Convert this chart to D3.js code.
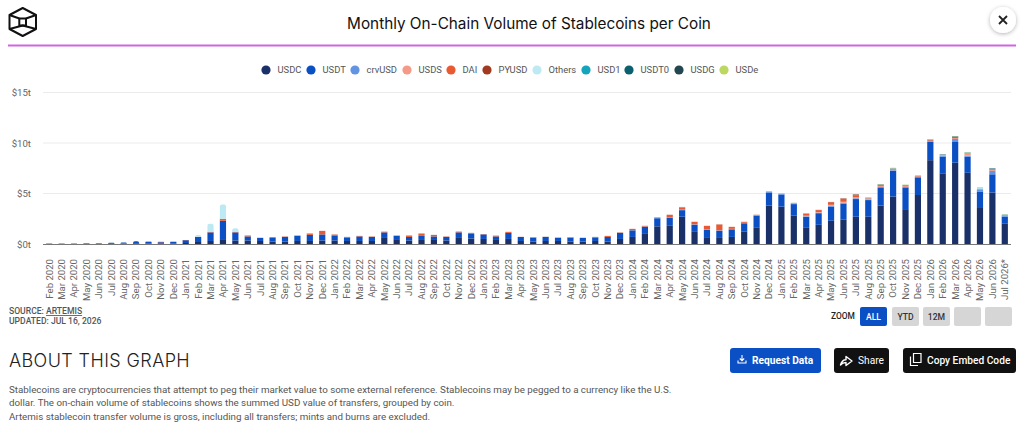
<!DOCTYPE html>
<html lang="en">
<head>
<meta charset="utf-8">
<title>Monthly On-Chain Volume of Stablecoins per Coin</title>
<script src="https://cdn.jsdelivr.net/npm/d3@7"></script>
<style>
html, body { margin: 0; padding: 0; background: #fff; overflow: hidden; }
text { font-family: Roboto, sans-serif; }
.axis text { fill: #666; font-size: 9.6px; }
.axis path, .axis line { display: none; }
</style>
</head>
<body>
<div id="chart"></div>
<script>
// values in trillions of USD
var months = ["Feb 2020","Mar 2020","Apr 2020","May 2020","Jun 2020","Jul 2020","Aug 2020","Sep 2020","Oct 2020","Nov 2020","Dec 2020",
	"Jan 2021","Feb 2021","Mar 2021","Apr 2021","May 2021","Jun 2021","Jul 2021","Aug 2021","Sep 2021","Oct 2021","Nov 2021","Dec 2021",
	"Jan 2022","Feb 2022","Mar 2022","Apr 2022","May 2022","Jun 2022","Jul 2022","Aug 2022","Sep 2022","Oct 2022","Nov 2022","Dec 2022",
	"Jan 2023","Feb 2023","Mar 2023","Apr 2023","May 2023","Jun 2023","Jul 2023","Aug 2023","Sep 2023","Oct 2023","Nov 2023","Dec 2023",
	"Jan 2024","Feb 2024","Mar 2024","Apr 2024","May 2024","Jun 2024","Jul 2024","Aug 2024","Sep 2024","Oct 2024","Nov 2024","Dec 2024",
	"Jan 2025","Feb 2025","Mar 2025","Apr 2025","May 2025","Jun 2025","Jul 2025","Aug 2025","Sep 2025","Oct 2025","Nov 2025","Dec 2025",
	"Jan 2026","Feb 2026","Mar 2026","Apr 2026","May 2026","Jun 2026","Jul 2026*"]

var usdc = [.02,.02,.02,.02,.02,.03,.04,.07,.06,.06,.06,
	.1,.2,.3,.4,.35,.35,.3,.25,.25,.3,.3,.35,
	.35,.3,.3,.3,.6,.4,.35,.4,.4,.35,.6,.55,
	.5,.4,.5,.3,.25,.3,.3,.25,.25,.3,.25,.5,
	.7,1.0,1.75,1.8,2.7,1.2,.6,.6,.7,1.25,1.6,3.8,
	3.7,2.8,1.6,1.9,2.3,2.4,2.7,2.7,3.8,4.7,3.45,4.85,
	8.3,7.0,8.05,7.05,3.65,5.1,2.0]
var usdt = [.03,.04,.04,.05,.05,.1,.12,.2,.14,.12,.15,
	.28,.5,.85,1.9,.8,.4,.3,.4,.45,.5,.6,.6,
	.45,.35,.45,.4,.55,.4,.35,.4,.35,.35,.55,.45,
	.45,.35,.6,.4,.4,.4,.3,.4,.35,.35,.45,.6,
	.65,.7,.8,.8,.65,.7,.8,.7,.75,.8,1.2,1.3,
	1.2,1.15,1.1,1.15,1.4,1.6,1.75,1.65,1.8,2.55,2.15,1.75,
	1.8,1.65,2.05,1.6,1.55,1.8,.7]
var crvusd = [0,0,0,0,0,0,0,0,0,0,0,
	0,0,0,0,0,0,0,0,0,0,0,0,
	0,0,0,0,0,0,0,0,0,0,0,0,
	0,0,0,0,0,0,0,0,0,0,0,.01,
	.02,.03,.04,.05,.05,.05,.05,.05,.05,.05,.05,.05,
	.05,.05,.05,.05,.08,.08,.08,.05,.06,.06,.06,.05,
	.08,.1,.3,.1,.15,.35,.1]
var usds = [0,0,0,0,0,0,0,0,0,0,0,
	0,0,0,0,0,0,0,0,0,0,0,0,
	0,0,0,0,0,0,0,0,0,0,0,0,
	0,0,0,0,0,0,0,0,0,0,0,0,
	0,0,0,0,0,0,0,0,0,0,0,.02,
	.03,.03,.05,.05,.1,.1,.08,.04,.04,.05,.04,.03,
	.05,.04,.05,.2,.06,.05,.03]
var dai = [0,0,0,0,0,0,0,0,.04,.05,.01,
	.01,.02,.05,.2,.05,.1,.02,.01,.05,.05,.15,.35,
	.15,.05,.05,.05,.08,.05,.15,.25,.15,.05,.08,.1,
	.03,.08,.1,.01,.02,.02,.05,.02,.02,.05,.1,.05,
	.13,.07,.06,.25,.25,.25,.35,.6,.2,.1,.05,.05,
	.03,.04,.2,.2,.25,.3,.2,.05,.1,.05,.05,.03,
	.02,.02,.03,.02,.02,.02,.02]
var pyusd = [0,0,0,0,0,0,0,0,0,0,0,
	0,0,0,0,0,0,0,0,0,0,0,0,
	0,0,0,0,0,0,0,0,0,0,0,0,
	0,0,0,0,0,0,0,0,0,0,0,0,
	0,0,0,0,0,0,0,0,0,0,0,0,
	0,0,.03,.03,.03,.05,.1,.04,.06,.04,.05,.02,
	.05,.03,.1,.03,.02,.08,.02]
var others = [0,0,0,0,0,0,0,0,0,0,0,
	0,.18,.8,1.4,.35,.02,.02,.02,.02,.02,.02,.02,
	.02,.02,.02,.02,.05,.02,.02,.02,.02,.02,.02,.02,
	.02,.02,.02,.02,.02,.02,.02,.02,.02,.02,.02,.02,
	.02,.02,.02,.02,.03,.02,.02,.02,.02,.02,.02,.02,
	.02,.02,.02,.02,.02,.02,.02,.03,.02,.03,.02,.02,
	.03,.03,.03,.03,.08,.03,.03]
var usd1 = [0,0,0,0,0,0,0,0,0,0,0,
	0,0,0,0,0,0,0,0,0,0,0,0,
	0,0,0,0,0,0,0,0,0,0,0,0,
	0,0,0,0,0,0,0,0,0,0,0,0,
	0,0,0,0,0,0,0,0,0,0,0,0,
	0,0,0,0,0,0,0,0,.01,.01,.01,.01,
	.02,.02,.02,.02,.02,.02,.01]
var usdt0 = [0,0,0,0,0,0,0,0,0,0,0,
	0,0,0,0,0,0,0,0,0,0,0,0,
	0,0,0,0,0,0,0,0,0,0,0,0,
	0,0,0,0,0,0,0,0,0,0,0,0,
	0,0,0,0,0,0,0,0,0,0,0,0,
	0,0,0,0,0,0,.01,.01,.01,.01,.01,.01,
	.01,.01,.02,.01,.01,.02,.01]
var usdg = [0,0,0,0,0,0,0,0,0,0,0,
	0,0,0,0,0,0,0,0,0,0,0,0,
	0,0,0,0,0,0,0,0,0,0,0,0,
	0,0,0,0,0,0,0,0,0,0,0,0,
	0,0,0,0,0,0,0,0,0,0,0,0,
	0,0,0,0,0,0,0,.01,.02,.01,.01,.01,
	.01,.01,.03,.01,.01,.03,.01]
var usde = [0,0,0,0,0,0,0,0,0,0,0,
	0,0,0,0,0,0,0,0,0,0,0,0,
	0,0,0,0,0,0,0,0,0,0,0,0,
	0,0,0,0,0,0,0,0,0,0,0,0,
	0,0,0,0,0,0,0,0,0,0,0,0,
	0,0,0,0,0,.01,.01,.05,.01,.05,.01,.01,
	.01,.01,.005,.005,.01,.005,.005]

var coins = ["USDC","USDT","crvUSD","USDS","DAI","PYUSD","Others","USD1","USDT0","USDG","USDe"]
var colors = ["#1a3068","#0b4fc4","#6394e4","#f49a86","#ea5a32","#a23a20","#bdeaf2","#12a5bb","#0b5f6e","#234750","#bcd860"]
var legendX = [266,311,355,407,451,487,537,586,629,679,724]
var yTicks = [0,5,10,15]

var table = months.map(function(m,i){
	return {month:m, USDC:usdc[i], USDT:usdt[i], crvUSD:crvusd[i], USDS:usds[i], DAI:dai[i], PYUSD:pyusd[i],
		Others:others[i], USD1:usd1[i], USDT0:usdt0[i], USDG:usdg[i], USDe:usde[i]}
})

var w = 1024
var h = 428
var left = 43
var right = 1011
var y0 = 244
var yTop = 92.5

var svg = d3.select("#chart").append("svg")
	.attr("width",w)
	.attr("height",h)
	.style("display","block")

var xScale = d3.scaleBand()
	.domain(months)
	.range([left,right])
	.paddingInner(0.5)
	.paddingOuter(0.25)

var yScale = d3.scaleLinear()
	.domain([0,15])
	.range([y0,yTop])

// header
svg.append("rect").attr("x",8).attr("y",44.5).attr("width",1008).attr("height",2).attr("fill","#d264e2")
svg.append("text").attr("x",529).attr("y",29).attr("text-anchor","middle")
	.style("font-family","Inter, sans-serif").style("font-size","15.3px").style("fill","#111")
	.text("Monthly On-Chain Volume of Stablecoins per Coin")

var logo = svg.append("g").attr("fill","none").attr("stroke","#111").attr("stroke-width",2).attr("stroke-linejoin","round")
logo.append("path").attr("d","M22.7 8L36 15V29L22.7 36L9.5 29V15Z")
logo.append("path").attr("d","M9.5 15L19.3 18.5M36 15L26 18.5M9.5 29L22.7 25.5L36 29")
logo.append("rect").attr("x",19.3).attr("y",18.5).attr("width",6.7).attr("height",7)

var shadow = svg.append("defs").append("filter").attr("id","sh").attr("x","-50%").attr("y","-50%").attr("width","200%").attr("height","200%")
shadow.append("feDropShadow").attr("dx",0).attr("dy",1).attr("stdDeviation",2).attr("flood-opacity",.3)
svg.append("circle").attr("cx",1003).attr("cy",20).attr("r",13).attr("fill","#fff").attr("filter","url(#sh)")
svg.append("path").attr("d","M999 16L1007 24M1007 16L999 24").attr("stroke","#222").attr("stroke-width",1.8)

// legend
var legend = svg.selectAll(".legend").data(coins).enter().append("g")
	.attr("class","legend")
	.attr("transform",function(d,i){ return "translate(" + legendX[i] + ",70)" })
legend.append("circle").attr("r",4.6).attr("fill",function(d,i){ return colors[i] })
legend.append("text").attr("x",11.5).attr("y",3.4).style("font-size","9.4px").style("fill","#555").text(function(d){ return d })

// y axis and grid
svg.selectAll(".grid").data(yTicks.slice(1)).enter().append("line")
	.attr("class","grid")
	.attr("x1",left).attr("x2",right)
	.attr("y1",function(d){ return yScale(d) }).attr("y2",function(d){ return yScale(d) })
	.attr("stroke","#ebebeb").attr("stroke-width",1)

var yAxis = d3.axisLeft(yScale).tickValues(yTicks).tickSize(0).tickPadding(0)
	.tickFormat(function(d){ return "$" + d + "t" })
svg.append("g").attr("class","axis").attr("transform","translate(31,0)").call(yAxis)

// bars
var stack = d3.stack().keys(coins)(table)
var groups = svg.selectAll(".series").data(stack).enter().append("g")
	.attr("class","series")
	.attr("fill",function(d,i){ return colors[i] })

function topIndex(d){
	var last = 0
	coins.forEach(function(c,i){ if (d[c] > 0) last = i })
	return last
}

groups.each(function(s,si){
	d3.select(this).selectAll("path").data(s).enter().append("path")
		.attr("d",function(d){
			var a = xScale(d.data.month), b = a + xScale.bandwidth()
			var y1 = yScale(d[1]), y2 = yScale(d[0])
			if (topIndex(d.data) != si || y2 - y1 < .01) return "M" + a + " " + y2 + "H" + b + "V" + y1 + "H" + a + "Z"
			var r = Math.min(2, y2 - y1)
			return "M" + a + " " + y2 + "H" + b + "V" + (y1+r) + "Q" + b + " " + y1 + " " + (b-r) + " " + y1 +
				"H" + (a+r) + "Q" + a + " " + y1 + " " + a + " " + (y1+r) + "Z"
		})
})

// x axis
svg.append("line").attr("x1",left).attr("x2",right).attr("y1",y0+.5).attr("y2",y0+.5).attr("stroke","#777").attr("stroke-width",1.2)
var xAxis = d3.axisBottom(xScale).tickSize(0).tickPadding(0)
var gx = svg.append("g").attr("class","axis").attr("transform","translate(0,259)").call(xAxis)
gx.selectAll("text")
	.attr("transform","rotate(-90)")
	.attr("text-anchor","end")
	.attr("x",0).attr("y",0).attr("dy","0.35em")

// source
svg.append("text").attr("x",9).attr("y",314).style("font-size","8.6px").style("font-weight",500).style("fill","#555")
	.html('SOURCE: <tspan text-decoration="underline">ARTEMIS</tspan>')
svg.append("text").attr("x",9).attr("y",324).style("font-size","8.6px").style("font-weight",500).style("fill","#555")
	.text("UPDATED: JUL 16, 2026")

// zoom buttons
svg.append("text").attr("x",831).attr("y",319).style("font-size","8.4px").style("font-weight",500).style("fill","#222").text("ZOOM")
var zoomLabels = ["ALL","YTD","12M","",""]
var zoomX = [860,892,923,954,985]
zoomLabels.forEach(function(z,i){
	svg.append("rect").attr("x",zoomX[i]).attr("y",307).attr("width",27).attr("height",19).attr("rx",2)
		.attr("fill",i==0 ? "#0b4fc4" : "#d6d6d6")
	svg.append("text").attr("x",zoomX[i]+13.5).attr("y",319.5).attr("text-anchor","middle")
		.style("font-size","8.6px").style("font-weight",500).style("fill",i==0 ? "#fff" : "#333").text(z)
})

// about
svg.append("text").attr("x",9).attr("y",366.5).style("font-family","Inter, sans-serif").style("font-size","18px").style("font-weight",300).style("letter-spacing","0.4px").style("fill","#222")
	.text("ABOUT THIS GRAPH")

var about = ["Stablecoins are cryptocurrencies that attempt to peg their market value to some external reference. Stablecoins may be pegged to a currency like the U.S.",
	"dollar. The on-chain volume of stablecoins shows the summed USD value of transfers, grouped by coin.",
	"Artemis stablecoin transfer volume is gross, including all transfers; mints and burns are excluded."]
svg.selectAll(".about").data(about).enter().append("text")
	.attr("class","about")
	.attr("x",9)
	.attr("y",function(d,i){ return 392.5 + i*13.5 })
	.style("font-size","9.78px").style("fill","#555")
	.text(function(d){ return d })

// action buttons
var buttons = [
	{x:730,w:91,fill:"#0b4fc4",label:"Request Data",tx:752,weight:700},
	{x:834,w:55,fill:"#111",label:"Share",tx:858,weight:400},
	{x:903,w:113,fill:"#111",label:"Copy Embed Code",tx:927,weight:500}
]
buttons.forEach(function(b){
	svg.append("rect").attr("x",b.x).attr("y",348).attr("width",b.w).attr("height",25).attr("rx",3).attr("fill",b.fill)
	svg.append("text").attr("x",b.tx).attr("y",364).style("font-size","10.2px").style("font-weight",b.weight).style("fill","#fff").text(b.label)
})
svg.append("path").attr("d","M738 360.5V363H746V360.5M742 355V360.5M739.8 358.5L742 360.7L744.2 358.5").attr("fill","none").attr("stroke","#fff").attr("stroke-width",1.1)
svg.append("path").attr("d","M840.5 365C841.5 361.5 843.5 359.8 846 359.8V356.5L852 361L846 365.5V362.5C844 362.5 842 363.3 840.5 365Z").attr("fill","none").attr("stroke","#fff").attr("stroke-width",1.4).attr("stroke-linejoin","round")
svg.append("path").attr("d","M913.5 353.5H921V362.5H913.5ZM910.5 356.5V365.5H918").attr("fill","none").attr("stroke","#fff").attr("stroke-width",1.2)
</script>
</body>
</html>
